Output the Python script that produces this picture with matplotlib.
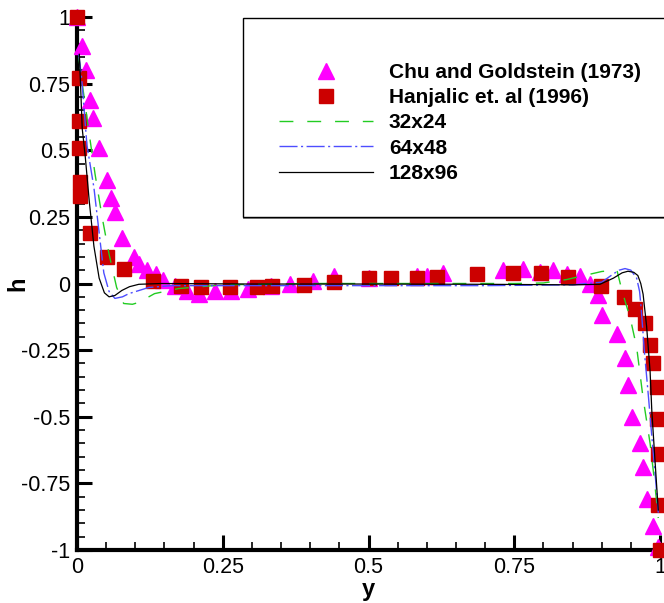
import numpy as np
import matplotlib
matplotlib.use("Agg")
import matplotlib.pyplot as plt
from matplotlib.patches import Rectangle
from matplotlib.ticker import MultipleLocator

plt.rcParams['font.family'] = ['Liberation Sans', 'DejaVu Sans']

# Chu and Goldstein (1973)
chu_y = [0.0, 0.009, 0.016, 0.022, 0.027, 0.037, 0.051, 0.058, 0.066, 0.078,
         0.097, 0.107, 0.12, 0.135, 0.148, 0.168, 0.188, 0.21, 0.236, 0.265,
         0.293, 0.333, 0.366, 0.405, 0.44, 0.50, 0.584, 0.601, 0.628, 0.73,
         0.765, 0.795, 0.817, 0.84, 0.863, 0.88, 0.894, 0.90, 0.926, 0.94,
         0.945, 0.952, 0.965, 0.97, 0.978, 0.988, 0.997]
chu_h = [1.0, 0.89, 0.80, 0.69, 0.62, 0.51, 0.39, 0.32, 0.27, 0.17,
         0.10, 0.075, 0.05, 0.035, 0.015, -0.01, -0.03, -0.04, -0.03, -0.03,
         -0.02, -0.01, 0.0, 0.01, 0.03, 0.02, 0.03, 0.03, 0.04, 0.05,
         0.055, 0.045, 0.05, 0.037, 0.03, 0.0, -0.045, -0.12, -0.19, -0.28,
         -0.38, -0.50, -0.60, -0.69, -0.81, -0.91, -0.99]

# Hanjalic et. al (1996)
han_y = [0.0, 0.003, 0.003, 0.003, 0.006, 0.006, 0.022, 0.051, 0.08, 0.131,
         0.178, 0.212, 0.263, 0.308, 0.334, 0.389, 0.44, 0.50, 0.538, 0.583,
         0.617, 0.686, 0.748, 0.796, 0.843, 0.898, 0.938, 0.957, 0.974, 0.983,
         0.988, 0.994, 0.994, 0.997, 0.997, 1.0]
han_h = [1.0, 0.77, 0.61, 0.51, 0.38, 0.33, 0.19, 0.10, 0.056, 0.01,
         -0.01, -0.014, -0.014, -0.014, -0.01, -0.004, 0.005, 0.02, 0.02, 0.02,
         0.025, 0.034, 0.039, 0.039, 0.024, -0.01, -0.05, -0.095, -0.15, -0.23,
         -0.30, -0.39, -0.51, -0.64, -0.83, -1.0]

# 32x24
g32_y = [0.003, 0.009, 0.021, 0.031, 0.043, 0.055, 0.068, 0.08, 0.095, 0.106,
         0.133, 0.174, 0.25, 0.4, 0.6, 0.75, 0.8, 0.84, 0.87, 0.9,
         0.926, 0.934, 0.942, 0.949, 0.96, 0.971, 0.983, 0.991, 0.997]
g32_h = [0.85, 0.75, 0.56, 0.41, 0.25, 0.11, -0.015, -0.075, -0.078, -0.071,
         -0.038, -0.019, -0.005, 0.0, 0.0, 0.0, 0.002, 0.015, 0.03, 0.045,
         0.051, -0.02, -0.08, -0.13, -0.24, -0.43, -0.60, -0.75, -0.88]

# 64x48
g64_y = [0.003, 0.008, 0.017, 0.029, 0.038, 0.046, 0.055, 0.065, 0.078, 0.089,
         0.123, 0.162, 0.3, 0.5, 0.7, 0.85, 0.9, 0.92, 0.93, 0.94,
         0.95, 0.96, 0.965, 0.968, 0.973, 0.98, 0.987, 0.993, 0.997]
g64_h = [0.86, 0.77, 0.52, 0.36, 0.19, 0.04, -0.03, -0.056, -0.05, -0.038,
         -0.015, -0.008, -0.008, -0.008, -0.008, -0.005, 0.005, 0.036, 0.05, 0.056,
         0.05, 0.02, -0.03, -0.1, -0.25, -0.42, -0.6, -0.75, -0.86]

# 128x96
g128_y = [0.004, 0.006, 0.009, 0.014, 0.021, 0.029, 0.038, 0.047, 0.055, 0.065,
          0.077, 0.09, 0.106, 0.145, 0.3, 0.5, 0.7, 0.85, 0.897, 0.92,
          0.935, 0.945, 0.955, 0.962, 0.967, 0.971, 0.977, 0.983, 0.986, 0.991, 0.997]
g128_h = [0.86, 0.75, 0.58, 0.48, 0.31, 0.14, 0.02, -0.035, -0.05, -0.045,
          -0.026, -0.012, -0.003, 0.0, -0.002, -0.002, -0.003, -0.005, -0.003, 0.02,
          0.04, 0.046, 0.042, 0.03, 0.0, -0.04, -0.16, -0.33, -0.48, -0.65, -0.85]

fig = plt.figure(figsize=(6.64, 6.03), dpi=100)
ax = fig.add_axes([77 / 664, 1 - 550 / 603, 583 / 664, 533 / 603])

ax.plot(chu_y, chu_h, linestyle='none', marker='^', ms=12, color='#FF00FF',
        mec='#FF00FF', clip_on=False, zorder=3, label='Chu and Goldstein (1973)')
ax.plot(han_y, han_h, linestyle='none', marker='s', ms=10, color='#CC0000',
        mec='#CC0000', clip_on=False, zorder=4, label='Hanjalic et. al (1996)')
ax.plot(g32_y, g32_h, color='#22CC22', lw=1, dashes=(10, 10), zorder=5, label='32x24')
ax.plot(g64_y, g64_h, color='#4D4DFF', lw=1, dashes=(13, 2.5, 1.5, 2.5), zorder=6, label='64x48')
ax.plot(g128_y, g128_h, color='black', lw=0.9, zorder=7, label='128x96')

ax.set_xlim(0, 1)
ax.set_ylim(-1, 1)
ax.spines['top'].set_visible(False)
ax.spines['right'].set_visible(False)
ax.spines['left'].set_linewidth(3)
ax.spines['bottom'].set_linewidth(3)
ax.xaxis.set_minor_locator(MultipleLocator(0.05))
ax.yaxis.set_minor_locator(MultipleLocator(0.05))
ax.set_xticks([0, 0.25, 0.5, 0.75, 1])
ax.set_xticklabels(['0', '0.25', '0.5', '0.75', '1'])
ax.set_yticks([-1, -0.75, -0.5, -0.25, 0, 0.25, 0.5, 0.75, 1])
ax.set_yticklabels(['-1', '-0.75', '-0.5', '-0.25', '0', '0.25', '0.5', '0.75', '1'])
ax.tick_params(which='major', direction='in', length=11, width=2.2, labelsize=15.5, pad=5)
ax.tick_params(which='minor', direction='in', length=6, width=1.2)
ax.set_xlabel('y', fontsize=17, fontweight='bold')
ax.set_ylabel('h', fontsize=17, fontweight='bold')
ax.xaxis.set_label_coords(0.5, -0.052)
ax.yaxis.set_label_coords(-0.082, 0.5)

# legend frame
fig.patches.append(Rectangle((243 / 664, 1 - 219 / 603), 0.7, 201 / 603,
                             transform=fig.transFigure, facecolor='#888888',
                             edgecolor='none', zorder=9))
fig.patches.append(Rectangle((243 / 664, 1 - 217 / 603), 0.7, 199 / 603,
                             transform=fig.transFigure, facecolor='white',
                             edgecolor='black', lw=1, zorder=10))
leg = fig.legend(loc='upper left', bbox_to_anchor=(279 / 664, 1 - 63 / 603),
                 frameon=False, numpoints=1, handlelength=4.5, handletextpad=0.77,
                 labelspacing=0.3, borderpad=0, borderaxespad=0,
                 prop={'size': 15, 'weight': 'bold'})
leg.set_zorder(11)

fig.savefig('out.png', dpi=100)
